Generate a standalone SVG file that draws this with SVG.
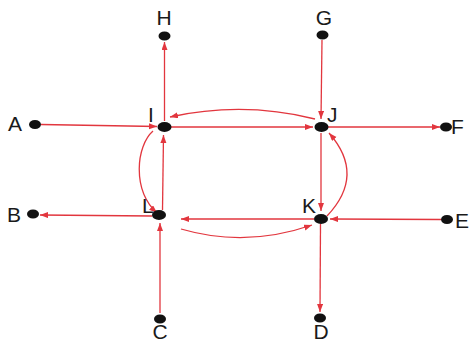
<svg xmlns="http://www.w3.org/2000/svg" width="471" height="342" viewBox="0 0 471 342">
<style>
.e{fill:none;stroke:#e2363e;stroke-width:1.3}
.n{fill:#111}
.t{font-family:"Liberation Sans",Arial,sans-serif;font-size:21px;fill:#1a1a1a}
</style>
<defs>
<marker id="ah" markerUnits="userSpaceOnUse" markerWidth="9" markerHeight="7" refX="8" refY="3" orient="auto">
<path d="M0,0 L8,3 L0,6 z" fill="#e2363e"/>
</marker>
</defs>
<rect width="471" height="342" fill="#fff"/>
<g id="connectors">
<path class="e" d="M41,124.5 L157,126.5" marker-end="url(#ah)"/>
<path class="e" d="M164.5,121 L164.5,42" marker-end="url(#ah)"/>
<path class="e" d="M162.5,210 L163.5,135" marker-end="url(#ah)"/>
<path class="e" d="M160,313 L160,223" marker-end="url(#ah)"/>
<path class="e" d="M152,216 L40,215" marker-end="url(#ah)"/>
<path class="e" d="M171,127 L313,127" marker-end="url(#ah)"/>
<path class="e" d="M322,40 L321,119" marker-end="url(#ah)"/>
<path class="e" d="M328,127 L440,127" marker-end="url(#ah)"/>
<path class="e" d="M321,133 L321,211" marker-end="url(#ah)"/>
<path class="e" d="M441,219.5 L330,219" marker-end="url(#ah)"/>
<path class="e" d="M320.5,224 L320,312" marker-end="url(#ah)"/>
<path class="e" d="M314,219 L181,219" marker-end="url(#ah)"/>
<path class="e" d="M315,119 Q243,101 170,117" marker-end="url(#ah)"/>
<path class="e" d="M181,229 Q246,248 312,225" marker-end="url(#ah)"/>
<path class="e" d="M153,131 C136,146 132,190 157,213" marker-end="url(#ah)"/>
<path class="e" d="M327,216 Q366,175 329,133" marker-end="url(#ah)"/>
</g>
<g id="H"><ellipse class="n" cx="164.5" cy="36" rx="6" ry="4.5"/><text class="t" x="164" y="25" text-anchor="middle">H</text></g>
<g id="G"><ellipse class="n" cx="322.5" cy="35" rx="6" ry="4.5"/><text class="t" x="324" y="25" text-anchor="middle">G</text></g>
<g id="A"><ellipse class="n" cx="35" cy="124.5" rx="6" ry="4.5"/><text class="t" x="8" y="131">A</text></g>
<g id="I"><ellipse class="n" cx="164.5" cy="127" rx="7" ry="5"/><text class="t" x="151" y="122" text-anchor="middle">I</text></g>
<g id="J"><ellipse class="n" cx="321.5" cy="127" rx="7" ry="5"/><text class="t" x="327" y="122">J</text></g>
<g id="F"><ellipse class="n" cx="446" cy="127" rx="6" ry="4.5"/><text class="t" x="451" y="134">F</text></g>
<g id="B"><ellipse class="n" cx="33" cy="214" rx="6" ry="4.5"/><text class="t" x="7" y="222">B</text></g>
<g id="L"><ellipse class="n" cx="159" cy="215" rx="7" ry="5"/><text class="t" x="142" y="213">L</text></g>
<g id="K"><ellipse class="n" cx="321" cy="219" rx="7" ry="5"/><text class="t" x="309" y="213" text-anchor="middle">K</text></g>
<g id="E"><ellipse class="n" cx="447" cy="219.5" rx="6" ry="4.5"/><text class="t" x="455" y="228">E</text></g>
<g id="C"><ellipse class="n" cx="160" cy="319" rx="6" ry="4.5"/><text class="t" x="160" y="339" text-anchor="middle">C</text></g>
<g id="D"><ellipse class="n" cx="320" cy="318" rx="6" ry="4.5"/><text class="t" x="321" y="339" text-anchor="middle">D</text></g>
</svg>
